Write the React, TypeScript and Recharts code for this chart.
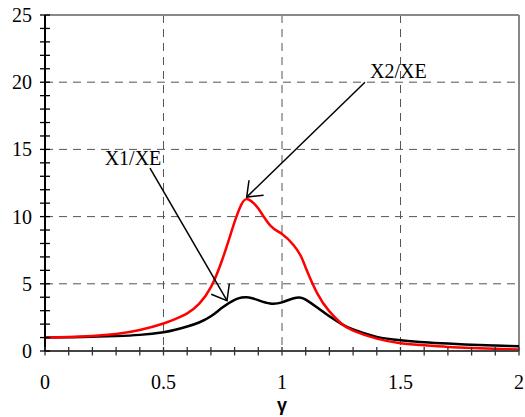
import { LineChart, Line, XAxis, YAxis, CartesianGrid, ReferenceLine } from 'recharts';

const GAMMA = [0, 0.1, 0.2, 0.3, 0.4, 0.5, 0.55, 0.6, 0.65, 0.7, 0.75, 0.8, 0.83, 0.85, 0.87, 0.9, 0.95, 1.0, 1.05, 1.08, 1.1, 1.15, 1.2, 1.25, 1.3, 1.4, 1.5, 1.6, 1.7, 1.8, 1.9, 2.0];
const X1_XE = [1.0, 1.02, 1.06, 1.11, 1.2, 1.4, 1.58, 1.82, 2.12, 2.58, 3.25, 3.8, 3.98, 4.0, 3.95, 3.78, 3.53, 3.62, 3.93, 3.97, 3.82, 3.22, 2.58, 2.02, 1.6, 1.05, 0.8, 0.65, 0.55, 0.47, 0.41, 0.36];
const X2_XE = [1.0, 1.04, 1.12, 1.27, 1.56, 2.05, 2.38, 2.8, 3.5, 4.75, 6.9, 9.6, 10.95, 11.3, 11.15, 10.6, 9.35, 8.7, 7.85, 7.05, 6.2, 4.25, 2.95, 2.05, 1.52, 0.92, 0.58, 0.42, 0.3, 0.22, 0.16, 0.11];

const X_TICKS = [0, 0.1, 0.2, 0.3, 0.4, 0.5, 0.6, 0.7, 0.8, 0.9, 1, 1.1, 1.2, 1.3, 1.4, 1.5, 1.6, 1.7, 1.8, 1.9, 2];
const Y_TICKS = [0, 1, 2, 3, 4, 5, 6, 7, 8, 9, 10, 11, 12, 13, 14, 15, 16, 17, 18, 19, 20, 21, 22, 23, 24, 25];

// annotation arrows: [tail, tip] in data coordinates
const ARROW_X2: [{ x: number; y: number }, { x: number; y: number }] = [{ x: 1.35, y: 20 }, { x: 0.851, y: 11.45 }];
const ARROW_X1: [{ x: number; y: number }, { x: number; y: number }] = [{ x: 0.443, y: 13.6 }, { x: 0.768, y: 3.75 }];

const data = GAMMA.map((g, i) => ({ g, x1: X1_XE[i], x2: X2_XE[i] }));

const SERIF = '"Liberation Serif", serif';

// eslint-disable-next-line @typescript-eslint/no-explicit-any
function XTick({ x, y, payload }: any) {
  const v = payload.value as number;
  const major = Math.abs(v * 2 - Math.round(v * 2)) < 1e-6;
  return (
    <g>
      <line x1={x} x2={x} y1={y - 4} y2={y + 4.5} stroke="#333" strokeWidth={1.3} />
      {major && (
        <text x={x} y={y + 38} textAnchor="middle" style={{ fontFamily: SERIF, fontSize: 20 }} fill="#000">
          {String(v)}
        </text>
      )}
    </g>
  );
}

// eslint-disable-next-line @typescript-eslint/no-explicit-any
function YTick({ x, y, payload }: any) {
  const v = payload.value as number;
  return (
    <g>
      <line x1={x - 5} x2={x + 5} y1={y} y2={y} stroke="#000" strokeWidth={1.3} />
      {v % 5 === 0 && (
        <text x={x - 13} y={y + 7} textAnchor="end" style={{ fontFamily: SERIF, fontSize: 20 }} fill="#000">
          {v}
        </text>
      )}
    </g>
  );
}

function arrowShape(label: string, place: 'right' | 'left') {
  // eslint-disable-next-line @typescript-eslint/no-explicit-any
  return (props: any) => {
    const { x1, y1, x2, y2 } = props;
    const ang = Math.atan2(y1 - y2, x1 - x2);
    const len = 17;
    const spread = (38 * Math.PI) / 180;
    const w1 = { x: x2 + len * Math.cos(ang + spread), y: y2 + len * Math.sin(ang + spread) };
    const w2 = { x: x2 + len * Math.cos(ang - spread), y: y2 + len * Math.sin(ang - spread) };
    return (
      <g>
        <line x1={x1} y1={y1} x2={x2} y2={y2} stroke="#000" strokeWidth={1.5} />
        <polyline points={`${w1.x},${w1.y} ${x2},${y2} ${w2.x},${w2.y}`} fill="none" stroke="#000" strokeWidth={1.5} />
        {place === 'right' ? (
          <text x={x1 + 5} y={y1 - 4} style={{ fontFamily: SERIF, fontSize: 20 }} fill="#000">{label}</text>
        ) : (
          <text x={x1 - 17} y={y1 - 3} textAnchor="middle" style={{ fontFamily: SERIF, fontSize: 20 }} fill="#000">{label}</text>
        )}
      </g>
    );
  };
}

export default function App() {
  return (
    <div style={{ position: 'absolute', left: 0, top: 0, background: '#fff' }}>
      <LineChart width={525} height={417} data={data} margin={{ top: 15, right: 6, bottom: 0, left: 0 }}>
        <CartesianGrid
          horizontalValues={[5, 10, 15, 20]}
          verticalValues={[0.5, 1, 1.5]}
          stroke="#555"
          strokeDasharray="8 6"
        />
        <XAxis
          dataKey="g"
          type="number"
          domain={[0, 2]}
          ticks={X_TICKS}
          interval={0}
          height={66}
          tickSize={0}
          tickMargin={0}
          tickLine={false}
          axisLine={{ stroke: '#444', strokeWidth: 2 }}
          tick={<XTick />}
          label={{ value: 'γ', position: 'insideBottom', offset: 6, fontFamily: 'Liberation Sans', fontWeight: 'bold', fontSize: 18, fill: '#000' }}
        />
        <YAxis
          type="number"
          domain={[0, 25]}
          ticks={Y_TICKS}
          interval={0}
          width={45}
          tickSize={0}
          tickMargin={0}
          tickLine={false}
          axisLine={{ stroke: '#000', strokeWidth: 2 }}
          tick={<YTick />}
        />
        <ReferenceLine y={25} stroke="#888" strokeWidth={2} />
        <ReferenceLine x={2} stroke="#888" strokeWidth={2} />
        <Line dataKey="x1" type="natural" stroke="#000" strokeWidth={2.5} dot={false} isAnimationActive={false} />
        <Line dataKey="x2" type="natural" stroke="#ff0000" strokeWidth={2.5} dot={false} isAnimationActive={false} />
        <ReferenceLine segment={ARROW_X2} shape={arrowShape('X2/XE', 'right')} />
        <ReferenceLine segment={ARROW_X1} shape={arrowShape('X1/XE', 'left')} />
      </LineChart>
    </div>
  );
}
